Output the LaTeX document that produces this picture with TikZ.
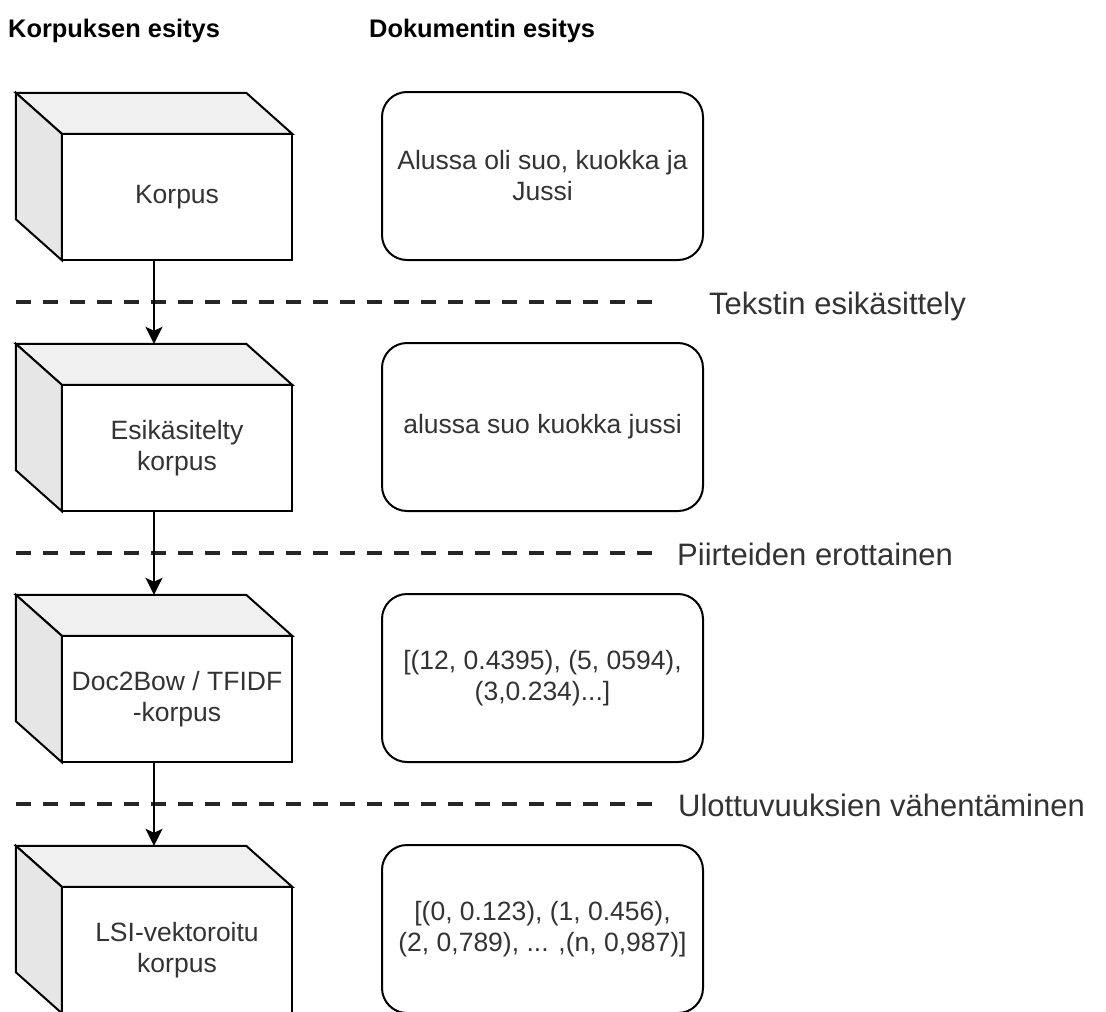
\documentclass[tikz,border=0pt]{standalone}
\usepackage{fontspec}
\setmainfont{Liberation Sans}
\usetikzlibrary{calc,arrows.meta}
\definecolor{topgray}{HTML}{F0F0F0}
\definecolor{leftgray}{HTML}{E6E6E6}
\definecolor{txt}{HTML}{333333}
\tikzset{
  cubebox/.style={minimum width=276pt, minimum height=167pt, inner sep=0pt, draw=none},
  cubeline/.style={draw=black, line width=2pt},
  cubefront/.style={cubeline, fill=white, minimum width=230pt, minimum height=126pt, inner sep=0pt,
    align=center, font=\fontsize{26.5}{31}\selectfont, text=txt},
  doc/.style={draw=black, line width=2pt, rounded corners=25pt, minimum width=321pt, minimum height=168pt,
    inner sep=0pt, align=center, font=\fontsize{26.5}{31}\selectfont, text=txt},
  sep/.style={line width=3.2pt, dash pattern=on 15pt off 12pt, draw=black!85},
  seplabel/.style={anchor=base west, font=\fontsize{31}{36}\selectfont, text=txt, inner sep=0pt},
  header/.style={anchor=base west, font=\bfseries\fontsize{25.4}{30}\selectfont, inner sep=0pt},
  flow/.style={line width=2pt, -{Stealth[length=17pt,width=17pt,inset=4pt]}}
}
\newcommand\mycube[3]{%
  \node[cubebox] (#1) at (154,#2) {};
  \path[cubeline, fill=topgray] (#1.north west) -- ($(#1.north east)+(-46,0)$) -- ($(#1.north east)+(0,41)$) -- ($(#1.north west)+(46,41)$) -- cycle;
  \path[cubeline, fill=leftgray] (#1.north west) -- ($(#1.north west)+(46,41)$) -- ($(#1.south west)+(46,0)$) -- ($(#1.south west)+(0,-41)$) -- cycle;
  \node[cubefront] (#1f) at ($(#1.center)+(23,20.5)$) {#3};
}
\begin{document}
\begin{tikzpicture}[x=1pt, y=-1pt]
  \path[use as bounding box, clip] (0,0) rectangle (1106,1012);
  \fill[white] (0,0) rectangle (1106,1012);

  \node[header] (h1) at (8,37) {Korpuksen esitys};
  \node[header] (h2) at (369,37) {Dokumentin esitys};

  \mycube{c1}{176.5}{Korpus}
  \mycube{c2}{427.5}{Esikäsitelty\\korpus}
  \mycube{c3}{678.5}{Doc2Bow / TFIDF\\-korpus}
  \mycube{c4}{929.5}{LSI-vektoroitu\\korpus}

  \node[doc] (d1) at (542.5,176) {Alussa oli suo, kuokka ja\\Jussi};
  \node[doc] (d2) at (542.5,427) {alussa suo kuokka jussi};
  \node[doc] (d3) at (542.5,678) {[(12, 0.4395), (5, 0594),\\(3,0.234)...]};
  \node[doc] (d4) at (542.5,929) {[(0, 0.123), (1, 0.456),\\(2, 0,789), ... ,(n, 0,987)]};

  \coordinate (s1a) at (16,302); \coordinate (s1b) at (656,302);
  \coordinate (s2a) at (16,553); \coordinate (s2b) at (656,553);
  \coordinate (s3a) at (16,804); \coordinate (s3b) at (656,804);
  \draw[sep] (s1a) -- (s1b);
  \draw[sep] (s2a) -- (s2b);
  \draw[sep] (s3a) -- (s3b);
  \node[seplabel] (l1) at (709,314) {Tekstin esikäsittely};
  \node[seplabel] (l2) at (677,565) {Piirteiden erottainen};
  \node[seplabel] (l3) at (678,816) {Ulottuvuuksien vähentäminen};

  \draw[flow] (c1.south) -- (c2.north);
  \draw[flow] (c2.south) -- (c3.north);
  \draw[flow] (c3.south) -- (c4.north);
\end{tikzpicture}
\end{document}
